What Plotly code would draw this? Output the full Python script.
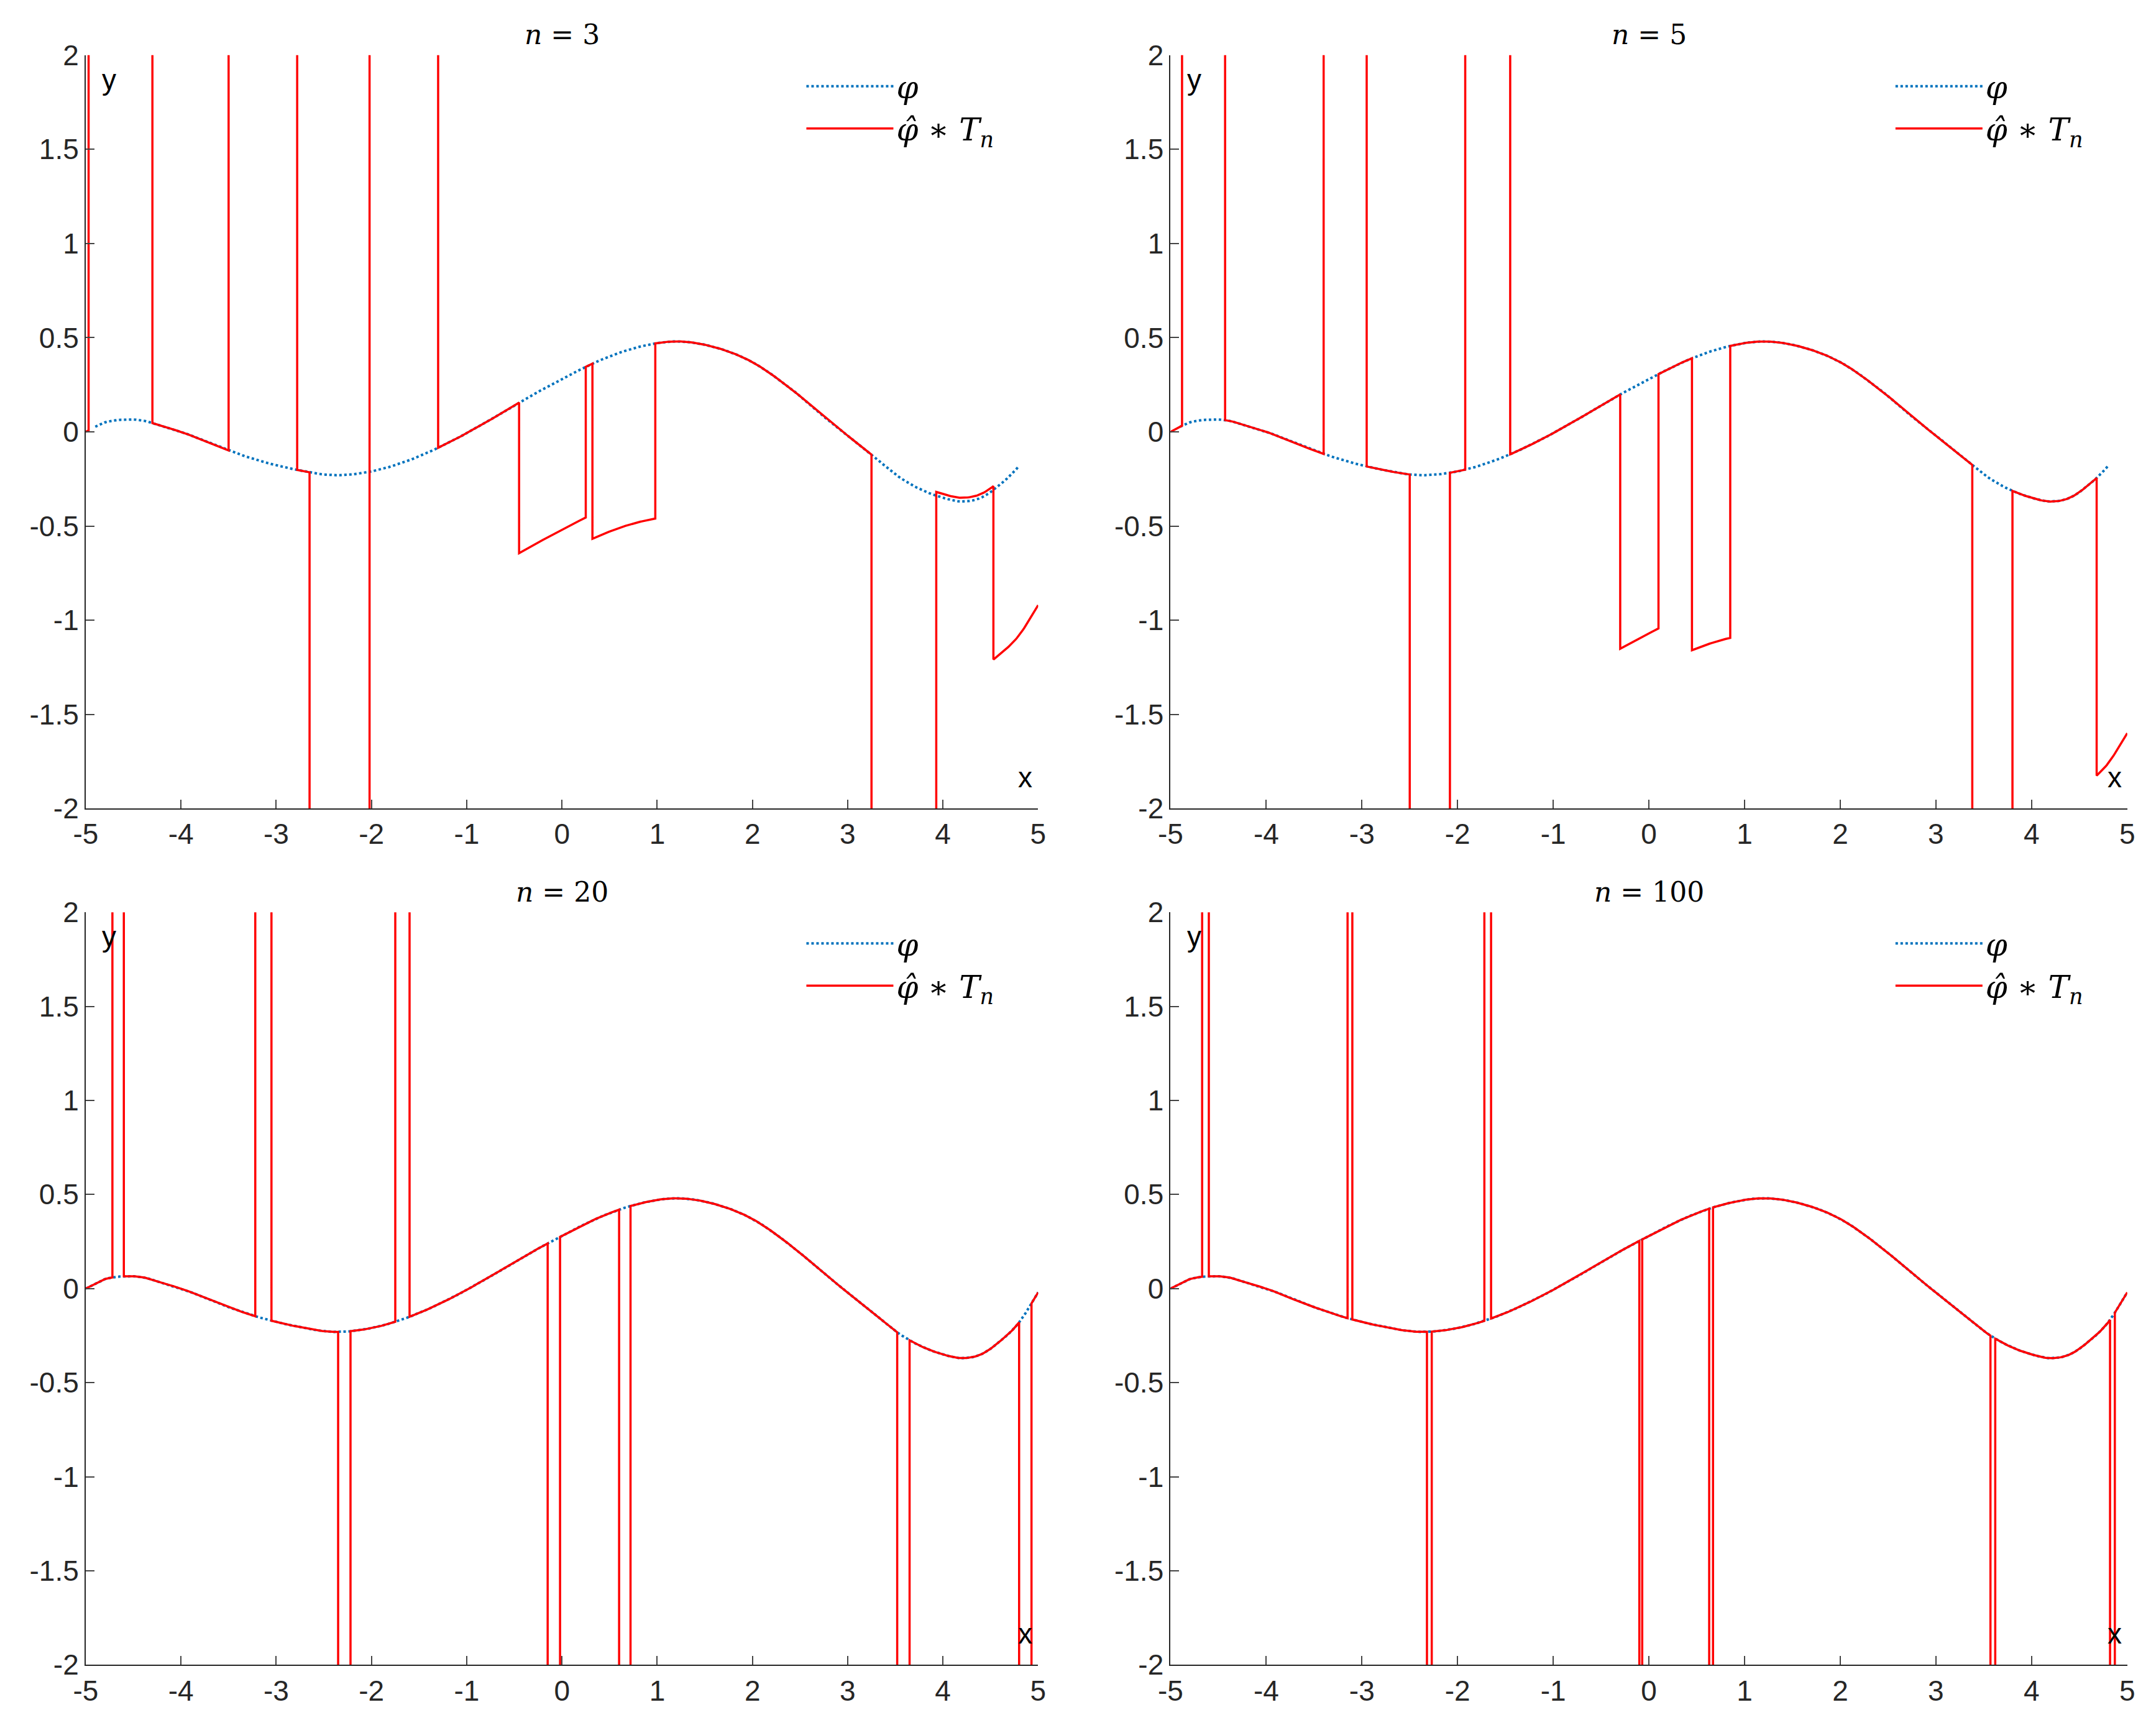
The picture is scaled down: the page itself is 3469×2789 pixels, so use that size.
import numpy as np
import plotly.graph_objects as go

# phi samples
phi_x = [-5.0,-4.8,-4.6,-4.4,-4.2,-4.0,-3.6,-3.2,-2.8,-2.4,-2.0,-1.6,-1.2,-0.8,-0.4,0.0,0.4,0.8,1.2,1.6,2.0,2.4,2.8,3.2,3.6,4.0,4.2,4.4,4.6,4.8,5.0]
phi_y = [0.0,0.05,0.065,0.06,0.03,0.0,-0.08,-0.15,-0.2,-0.23,-0.21,-0.15,-0.06,0.05,0.17,0.28,0.38,0.45,0.48,0.45,0.37,0.23,0.06,-0.1,-0.26,-0.35,-0.37,-0.35,-0.28,-0.18,-0.02]

n_values = [3, 5, 20, 100]
breaks = {
    3: [-5,-4.97,-4.3,-3.5,-2.78,-2.65,-2.02,-1.3,-0.45,0.25,0.32,0.98,3.25,3.93,4.53,5],
    5: [-5,-4.88,-4.43,-3.4,-2.95,-2.5,-2.08,-1.92,-1.45,-0.3,0.1,0.45,0.85,3.38,3.8,4.68,5],
    20: [-5,-4.72,-4.6,-3.22,-3.05,-2.35,-2.22,-1.75,-1.6,-0.15,-0.02,0.6,0.72,3.52,3.65,4.8,4.93,5],
    100: [-5,-4.67,-4.6,-3.15,-3.1,-2.32,-2.27,-1.72,-1.65,-0.1,-0.07,0.63,0.67,3.57,3.62,4.82,4.87,5],
}
offsets = {
    3: [0,5,0,5,0,-5,5,0,-0.8,0,-0.93,0,-5,0.02,-0.9],
    5: [0,5,0,5,0,-5,0,5,0,-1.35,0,-1.55,0,-5,0,-1.58],
    20: [0,5,0,5,0,-5,0,5,0,-5,0,-5,0,-5,0,-5,0],
    100: [0,5,0,5,0,-5,0,5,0,-5,0,-5,0,-5,0,-5,0],
}
x_ticks = [-5,-4,-3,-2,-1,0,1,2,3,4,5]
x_labels = ["-5","-4","-3","-2","-1","0","1","2","3","4","5"]
y_ticks = [-2,-1.5,-1,-0.5,0,0.5,1,1.5,2]
y_labels = ["-2","-1.5","-1","-0.5","0","0.5","1","1.5","2"]

PX = np.array(phi_x); PY = np.array(phi_y)
M = np.gradient(PY, PX)

def phi(x):
    x = np.asarray(x, float)
    i = np.clip(np.searchsorted(PX, x) - 1, 0, len(PX) - 2)
    h = PX[i+1] - PX[i]
    t = (x - PX[i]) / h
    h00 = 2*t**3 - 3*t**2 + 1; h10 = t**3 - 2*t**2 + t
    h01 = -2*t**3 + 3*t**2; h11 = t**3 - t**2
    return h00*PY[i] + h10*h*M[i] + h01*PY[i+1] + h11*h*M[i+1]

def approx(n):
    xs, ys = [], []
    b, o = breaks[n], offsets[n]
    for i in range(len(o)):
        seg = np.linspace(b[i], b[i+1], max(3, int((b[i+1]-b[i])*80)))
        xs.extend(seg.tolist()); ys.extend((phi(seg)+o[i]).tolist())
    return xs, ys

xdom = [[0.032, 0.478], [0.540, 0.988]]
ydom = [[0.537, 0.980], [0.0335, 0.476]]

fig = go.Figure()
layout = dict(width=3469, height=2789, margin=dict(l=0, r=0, t=0, b=0),
              paper_bgcolor="white", plot_bgcolor="white", showlegend=True,
              annotations=[])
axfont = dict(family="Liberation Sans, Arial", size=46, color="#262626")
for k, n in enumerate(n_values):
    r, c = divmod(k, 2)
    sfx = "" if k == 0 else str(k+1)
    lg = "legend" if k == 0 else "legend" + str(k+1)
    px = np.linspace(-4.9 if n < 20 else -5, 4.8 if n < 20 else 5, 300)
    fig.add_trace(go.Scatter(x=px, y=phi(px), mode="lines", name="<i>φ</i>",
                             line=dict(color="#0072BD", width=4, dash="dot"),
                             xaxis="x"+sfx, yaxis="y"+sfx, legend=lg))
    ax, ay = approx(n)
    fig.add_trace(go.Scatter(x=ax, y=ay, mode="lines", name="<i>φ̂</i> ∗ <i>T<sub>n</sub></i>",
                             line=dict(color="#FF0000", width=3.5),
                             xaxis="x"+sfx, yaxis="y"+sfx, legend=lg))
    layout["xaxis"+sfx] = dict(domain=xdom[c], anchor="y"+sfx, range=[-5, 5],
                               tickvals=x_ticks, ticktext=x_labels,
                               ticks="inside", ticklen=14, tickwidth=2, showline=True,
                               linecolor="#262626", linewidth=2, showgrid=False, zeroline=False,
                               tickfont=axfont)
    layout["yaxis"+sfx] = dict(domain=ydom[r], anchor="x"+sfx, range=[-2, 2],
                               tickvals=y_ticks, ticktext=y_labels,
                               ticks="inside", ticklen=14, tickwidth=2, showline=True,
                               linecolor="#262626", linewidth=2, showgrid=False, zeroline=False,
                               tickfont=axfont)
    layout[lg] = dict(x=xdom[c][1]-0.110, y=ydom[r][1]-0.004, xanchor="left", yanchor="top",
                      font=dict(family="DejaVu Serif", size=50, color="black"),
                      bgcolor="rgba(0,0,0,0)", itemwidth=140, tracegroupgap=2)
    layout["annotations"] += [
        dict(text=f"<i>n</i> = {n}", x=(xdom[c][0]+xdom[c][1])/2, y=ydom[r][1]+0.002,
             xref="paper", yref="paper", xanchor="center", yanchor="bottom", showarrow=False,
             font=dict(family="DejaVu Serif", size=44, color="black")),
        dict(text="y", x=xdom[c][0]+0.011, y=ydom[r][1]-0.004, xref="paper", yref="paper",
             xanchor="center", yanchor="top", showarrow=False,
             font=dict(family="Liberation Sans", size=46, color="black")),
        dict(text="x", x=xdom[c][1]-0.006, y=ydom[r][0]+0.008, xref="paper", yref="paper",
             xanchor="center", yanchor="bottom", showarrow=False,
             font=dict(family="Liberation Sans", size=46, color="black")),
    ]
fig.update_layout(**layout)
fig.write_html("out.html")
